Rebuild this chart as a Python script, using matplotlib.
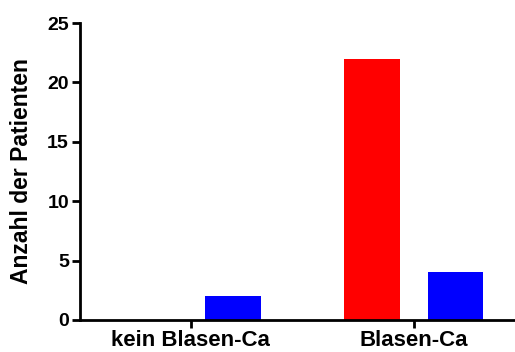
import numpy as np
import matplotlib.pyplot as plt

plt.rcParams['font.family'] = ['Liberation Sans', 'DejaVu Sans']
plt.rcParams['font.weight'] = 'bold'

# Data
groups = ["kein Blasen-Ca", "Blasen-Ca"]
red_values = [0, 22]
blue_values = [2, 4]
y_ticks = [0, 5, 10, 15, 20, 25]

fig = plt.figure(figsize=(5.15, 3.52), dpi=100)
ax = fig.add_axes([80 / 515, 1 - 320 / 352, 1 - 80 / 515, 297 / 352])

x = np.arange(len(groups))
width = 0.251
offset = 0.188
ax.bar(x - offset, red_values, width, color="#ff0000")
ax.bar(x + offset, blue_values, width, color="#0000ff")

ax.set_xlim(-0.498, 1.455)
ax.set_ylim(0, 25)
ax.set_yticks(y_ticks)
ax.set_xticks(x)
ax.set_xticklabels(groups, fontsize=16, fontweight="bold")
ax.tick_params(axis="y", labelsize=14, width=2.0, length=6, pad=2)
ax.tick_params(axis="x", width=2.0, length=6, pad=1.5)
for lbl in ax.get_yticklabels():
    lbl.set_fontweight("bold")

ax.spines["top"].set_visible(False)
ax.spines["right"].set_visible(False)
ax.spines["left"].set_linewidth(2.0)
ax.spines["bottom"].set_linewidth(2.0)

ax.set_ylabel("Anzahl der Patienten", fontsize=16.5, fontweight="bold", labelpad=10)

fig.savefig("out.png", dpi=100)
plt.close(fig)
